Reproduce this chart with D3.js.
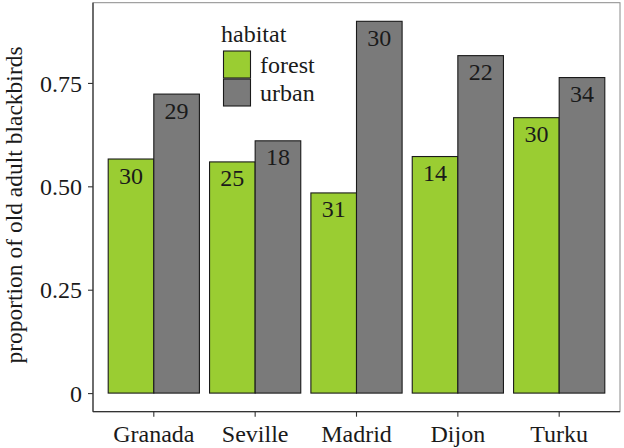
<!DOCTYPE html>
<html>
<head>
  <meta charset="utf-8" />
  <title>blackbirds</title>
  <script src="https://d3js.org/d3.v7.min.js"></script>
  <style>
    body { margin: 0; background: #fff; }
    text { font-family: 'Liberation Serif', 'Times New Roman', Times, serif; fill: #1a1a1a; }
  </style>
</head>
<body>
  <svg id="chart" width="624" height="448"></svg>
  <script>
    // data
    var cities = ["Granada", "Seville", "Madrid", "Dijon", "Turku"];
    var habitats = ["forest", "urban"];
    var forestValues = [0.566, 0.559, 0.484, 0.572, 0.666];
    var urbanValues = [0.723, 0.610, 0.899, 0.816, 0.763];
    var forestN = [30, 25, 31, 14, 30];
    var urbanN = [29, 18, 30, 22, 34];
    var yTicks = [0, 0.25, 0.5, 0.75];
    var yTickLabels = ["0", "0.25", "0.50", "0.75"];

    var colors = { forest: "#9acd32", urban: "#7a7a7a" };

    var rows = [];
    cities.forEach(function(c, i) {
      rows.push({ city: c, habitat: "forest", value: forestValues[i], n: forestN[i] });
      rows.push({ city: c, habitat: "urban", value: urbanValues[i], n: urbanN[i] });
    });

    var panel = { left: 93, right: 620, top: 2.7, bottom: 411.7 };
    var svg = d3.select("#chart");

    var x = d3.scaleBand()
      .domain(cities)
      .range([panel.left, panel.right])
      .paddingInner(0.1)
      .paddingOuter(0.15);

    var x1 = d3.scaleBand()
      .domain(habitats)
      .range([0, x.bandwidth()]);

    var y = d3.scaleLinear()
      .domain([-0.045, 0.944])
      .range([panel.bottom, panel.top]);

    // panel border
    svg.append("rect")
      .attr("x", panel.left)
      .attr("y", panel.top)
      .attr("width", panel.right - panel.left)
      .attr("height", panel.bottom - panel.top)
      .attr("fill", "none")
      .attr("stroke", "#8a8a8a")
      .attr("stroke-width", 1);

    // bars
    svg.append("g").selectAll("rect")
      .data(rows)
      .enter().append("rect")
      .attr("x", function(d) { return x(d.city) + x1(d.habitat); })
      .attr("y", function(d) { return y(d.value); })
      .attr("width", x1.bandwidth())
      .attr("height", function(d) { return y(0) - y(d.value); })
      .attr("fill", function(d) { return colors[d.habitat]; })
      .attr("stroke", "#1a1a1a")
      .attr("stroke-width", 1.1);

    // sample sizes
    svg.append("g").selectAll("text")
      .data(rows)
      .enter().append("text")
      .attr("x", function(d) { return x(d.city) + x1(d.habitat) + x1.bandwidth() / 2; })
      .attr("y", function(d) { return y(d.value) + 24.5; })
      .attr("text-anchor", "middle")
      .attr("font-size", 24)
      .text(function(d) { return d.n; });

    // y axis
    var yAxis = svg.append("g")
      .attr("transform", "translate(" + panel.left + ",0)")
      .call(d3.axisLeft(y)
        .tickValues(yTicks)
        .tickFormat(function(d, i) { return yTickLabels[i]; })
        .tickSize(5)
        .tickPadding(6));

    // x axis
    var xAxis = svg.append("g")
      .attr("transform", "translate(0," + panel.bottom + ")")
      .call(d3.axisBottom(x).tickSize(5).tickPadding(4));

    [yAxis, xAxis].forEach(function(a) {
      a.select(".domain").attr("stroke", "#333").attr("stroke-width", 1.2);
      a.selectAll(".tick line").attr("stroke", "#333").attr("stroke-width", 1.1);
      a.selectAll(".tick text")
        .attr("font-size", 24)
        .attr("font-family", "'Liberation Serif', 'Times New Roman', serif")
        .attr("fill", "#1a1a1a");
    });
    yAxis.selectAll(".tick text").attr("dy", "0.34em");
    xAxis.selectAll(".tick text").attr("y", 30).attr("dy", 0);
    // ggplot style: axis lines extend over the whole panel
    yAxis.select(".domain").attr("d", "M0," + panel.bottom + "V" + panel.top);
    xAxis.select(".domain").attr("d", "M" + panel.left + ",0H" + panel.right);

    // y axis title
    svg.append("text")
      .attr("transform", "translate(21.5,205) rotate(-90)")
      .attr("text-anchor", "middle")
      .attr("font-size", 23.5)
      .text("proportion of old adult blackbirds");

    // legend
    var legend = svg.append("g");
    legend.append("text")
      .attr("x", 221)
      .attr("y", 41.5)
      .attr("font-size", 24)
      .text("habitat");

    var keys = legend.selectAll("g.key")
      .data(habitats)
      .enter().append("g")
      .attr("class", "key")
      .attr("transform", function(d, i) { return "translate(223.5," + (51 + i * 28) + ")"; });

    keys.append("rect")
      .attr("width", 27)
      .attr("height", 27)
      .attr("fill", function(d) { return colors[d]; })
      .attr("stroke", "#1a1a1a")
      .attr("stroke-width", 1.1);

    keys.append("text")
      .attr("x", 36.5)
      .attr("y", 21.5)
      .attr("font-size", 24)
      .text(function(d) { return d; });
  </script>
</body>
</html>
